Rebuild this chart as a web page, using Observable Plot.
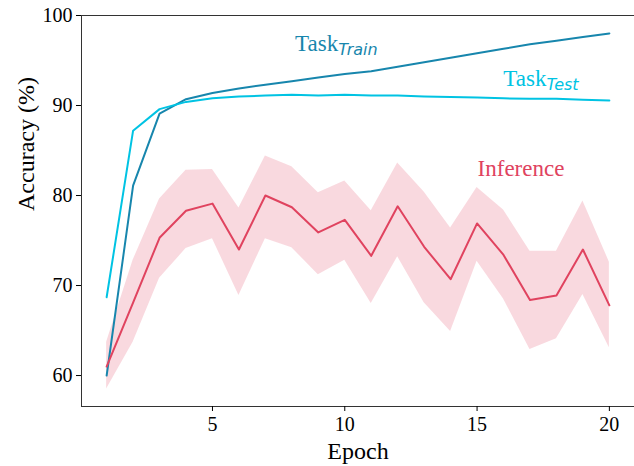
<!DOCTYPE html>
<html><head><meta charset="utf-8">
<script src="https://cdn.jsdelivr.net/npm/d3@7"></script>
<script src="https://cdn.jsdelivr.net/npm/@observablehq/plot@0.6"></script>
<style>body{margin:0;background:#fff}</style>
</head><body><div id="chart"></div>
<script>
const epochs    = [1,2,3,4,5,6,7,8,9,10,11,12,13,14,15,16,17,18,19,20];
const trainAcc  = [60.0,81.1,89.1,90.7,91.4,91.9,92.3,92.7,93.1,93.5,93.8,94.3,94.8,95.3,95.8,96.3,96.8,97.2,97.6,98.0];
const testAcc   = [68.7,87.2,89.6,90.4,90.8,91.0,91.1,91.2,91.1,91.2,91.1,91.1,91.0,90.95,90.9,90.8,90.75,90.75,90.65,90.55];
const inferAcc  = [61.0,68.1,75.3,78.3,79.1,74.0,80.0,78.7,75.9,77.3,73.3,78.8,74.3,70.7,76.9,73.4,68.4,68.9,74.0,67.8];
const inferLow  = [58.5,63.7,70.8,74.1,75.2,68.9,75.2,74.2,71.2,72.8,68.0,73.2,68.1,64.9,72.7,68.5,62.9,64.1,69.0,63.1];
const inferHigh = [63.7,72.8,79.6,82.8,82.9,78.6,84.4,83.2,80.3,81.6,78.3,83.6,80.4,76.4,80.9,78.4,73.8,73.8,79.4,72.6];
const xTicks = [5,10,15,20];
const yTicks = [60,70,80,90,100];
const seriesNames = ["Task", "Train", "Test", "Inference"];

const rows = epochs.map((e,i)=>({epoch:e, train:trainAcc[i], test:testAcc[i], infer:inferAcc[i], lo:inferLow[i], hi:inferHigh[i]}));

const cTrain = "#1786ad", cTest = "#00c3e3", cInf = "#e0435f";
const serif = "Liberation Serif, Times New Roman, serif";

const chart = Plot.plot({
  width: 634, height: 466,
  marginLeft: 81, marginRight: 0, marginTop: 15, marginBottom: 60,
  style: {fontFamily: serif, fontSize: "20px", color: "#000", background: "#fff"},
  x: {domain: [0.05, 20.95]},
  y: {domain: [56.56, 100]},
  marks: [
    Plot.areaY(rows, {x: "epoch", y1: "lo", y2: "hi", fill: cInf, fillOpacity: 0.2}),
    Plot.lineY(rows, {x: "epoch", y: "train", stroke: cTrain, strokeWidth: 2}),
    Plot.lineY(rows, {x: "epoch", y: "test", stroke: cTest, strokeWidth: 2}),
    Plot.lineY(rows, {x: "epoch", y: "infer", stroke: cInf, strokeWidth: 2}),
    Plot.frame({stroke: "#333", strokeWidth: 1}),
    Plot.axisX({ticks: xTicks, tickSize: 5, tickPadding: 5, label: null, fontSize: 20, stroke: "#000"}),
    Plot.axisY({ticks: yTicks, tickSize: 5, tickPadding: 4, label: null, fontSize: 20, stroke: "#000"}),
    Plot.text(["Epoch"], {frameAnchor: "bottom", dy: 52, fontSize: 24, fontFamily: serif, fill: "#000"}),
    Plot.text(["Accuracy (%)"], {frameAnchor: "left", dx: -55, rotate: -90, fontSize: 24, fontFamily: serif, fill: "#000"}),
    // annotations
    Plot.text([seriesNames[0]], {x: [9.75], y: [96.1], textAnchor: "end", lineAnchor: "bottom", fontSize: 23, fontFamily: serif, fill: cTrain}),
    Plot.text([seriesNames[1]], {x: [9.75], y: [96.1], dy: 4, textAnchor: "start", lineAnchor: "bottom", fontSize: 16, fontFamily: "DejaVu Sans", fontStyle: "italic", fill: cTrain}),
    Plot.text([seriesNames[0]], {x: [17.62], y: [92.2], textAnchor: "end", lineAnchor: "bottom", fontSize: 23, fontFamily: serif, fill: cTest}),
    Plot.text([seriesNames[2]], {x: [17.62], y: [92.2], dy: 4, textAnchor: "start", lineAnchor: "bottom", fontSize: 16, fontFamily: "DejaVu Sans", fontStyle: "italic", fill: cTest}),
    Plot.text([seriesNames[3]], {x: [16.66], y: [82.2], textAnchor: "middle", lineAnchor: "bottom", fontSize: 23, fontFamily: serif, fill: cInf})
  ]
});
document.getElementById("chart").appendChild(chart);
</script>
</body></html>
